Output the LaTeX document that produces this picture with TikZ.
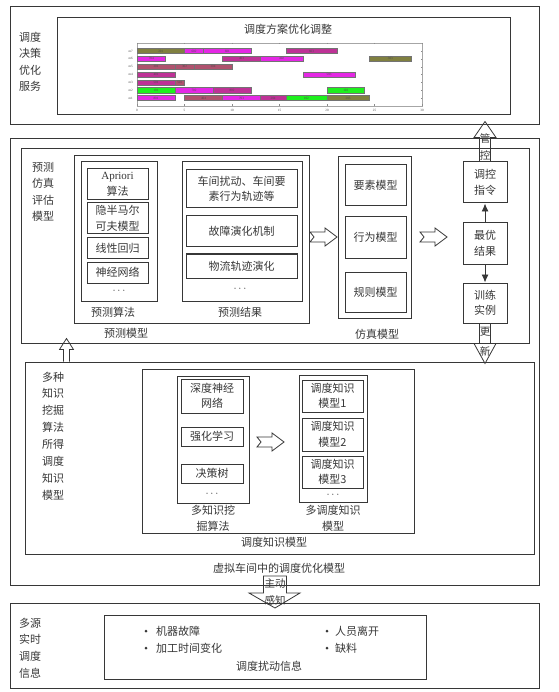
\documentclass[tikz,border=0pt]{standalone}
\usepackage{fontspec}
\setmainfont{Liberation Serif}
\newfontfamily\cjk{Noto Sans CJK SC}
\usetikzlibrary{arrows.meta}
\definecolor{olv}{RGB}{128,128,64}
\definecolor{mag}{RGB}{228,40,228}
\definecolor{pnk}{RGB}{190,50,150}
\definecolor{ros}{RGB}{175,82,110}
\definecolor{grn}{RGB}{30,240,30}
\definecolor{ln}{RGB}{55,55,55}
\definecolor{tx}{RGB}{55,55,55}
\begin{document}
\begin{tikzpicture}[x=1pt,y=-1pt,
  bx/.style={draw=ln, line width=1pt, inner sep=0pt, align=center, text=tx,
     font=\cjk\fontsize{11}{15.5}\selectfont},
  lbl/.style={inner sep=0pt, align=center, text=tx, font=\cjk\fontsize{11}{16.5}\selectfont},
  small/.style={inner sep=0pt, align=center, text=tx, font=\cjk\fontsize{10.5}{12}\selectfont},
  tiny/.style={inner sep=0pt, text=black!70, font=\fontsize{3.3}{3.6}\selectfont},
  hollow/.style={draw=ln, line width=0.8pt, line join=miter},
  conn/.style={draw=ln, line width=0.9pt, -{Latex[length=8pt,width=7pt]}}
]
\useasboundingbox (0,0) rectangle (558,692);

% ---------- top: scheduling decision service ----------
\node[bx, minimum width=529, minimum height=118] (top) at (274.5,66) {};
\node[lbl] (topl) at (30,62) {调度\\决策\\优化\\服务};
\node[bx, minimum width=453, minimum height=97] (gbox) at (283.5,66.5) {};
\node[lbl] (gtitle) at (288,29) {调度方案优化调整};
% gantt axes
\node[draw=black!35, line width=0.4pt, minimum width=285, minimum height=63, inner sep=0pt] (axes) at (279.5,74.5) {};
\foreach \t in {0,5,...,30} {
  \draw[black!45, line width=0.3pt] ({137+9.5*\t},106) -- ({137+9.5*\t},104.5);
  \draw[black!45, line width=0.3pt] ({137+9.5*\t},43) -- ({137+9.5*\t},44.5);
  \node[tiny] (tk\t) at ({137+9.5*\t},110) {\t};
}
\foreach \r in {1,...,7} {
  \pgfmathsetmacro\yy{98-(\r-1)*7.833}
  \draw[black!45, line width=0.3pt] (422,\yy) -- (420.5,\yy);
  \node[tiny, anchor=east] (row\r) at (133,\yy) {m\r};
}
\foreach \r/\a/\b/\c/\l in {
  7/0/5/olv/201, 7/5/7/mag/602, 7/7/12/mag/601, 7/15.65/21.1/pnk/603,
  6/0/3/mag/704, 6/9/13/pnk/403, 6/13/17.45/mag/402, 6/24.45/28.9/olv/303,
  5/0/4/ros/301, 5/4/6/ros/302, 5/6/10/ros/304,
  4/0/4/pnk/401, 4/17.45/23/mag/503,
  3/0/4/pnk/501, 3/4/5/ros/502,
  2/0/4/grn/101, 2/4/8/mag/702, 2/8/12/pnk/802,
  2/20/23.95/grn/103,
  1/0/4/mag/801, 1/5/9/ros/404, 1/9/13/mag/703, 1/13/15.65/pnk/204,
  1/15.65/20/grn/102, 1/20/24.45/olv/205} {
  \pgfmathsetmacro\yy{98-(\r-1)*7.833}
  \draw[draw=black!55, line width=0.3pt, fill=\c] ({137+9.5*\a},{\yy-2.6}) rectangle ({137+9.5*\b},{\yy+2.6});
  \node[tiny] (g\l-\r) at ({137+9.5*(\a+\b)/2},\yy) {\l};
}

% ---------- virtual workshop model ----------
\node[bx, minimum width=529, minimum height=446] (virt) at (274.5,362) {};
\node[lbl] (virtl) at (279,568) {虚拟车间中的调度优化模型};

% prediction / simulation / evaluation
\node[bx, minimum width=508, minimum height=194] (pse) at (275,246) {};
\node[lbl, font=\cjk\fontsize{11}{16.3}\selectfont] (psel) at (43,192) {预测\\仿真\\评估\\模型};

\node[bx, minimum width=235, minimum height=167] (pm) at (191.5,239.5) {};
\node[lbl] (pml) at (126,333) {预测模型};

\node[bx, minimum width=76, minimum height=139] (alg) at (119,231.5) {};
\node[lbl] (algl) at (113,312) {预测算法};
\node[bx, minimum width=61, minimum height=31] (apr) at (117.5,184.5) {{\rmfamily Apriori}\\算法};
\node[bx, minimum width=61, minimum height=31] (hsm) at (117.5,218.5) {隐半马尔\\可夫模型};
\node[bx, minimum width=61, minimum height=20] (lin) at (117.5,248) {线性回归};
\node[bx, minimum width=61, minimum height=21] (nn) at (117.5,272.5) {神经网络};
\node[lbl] (algd) at (119,291) {$\cdots$};

\node[bx, minimum width=120, minimum height=139] (res) at (242,231.5) {};
\node[lbl] (resl) at (240,312) {预测结果};
\node[bx, minimum width=111, minimum height=38] (r1) at (241.5,189) {车间扰动、车间要\\素行为轨迹等};
\node[bx, minimum width=111, minimum height=31] (r2) at (241.5,231.5) {故障演化机制};
\node[bx, minimum width=111, minimum height=24] (r3) at (241.5,266) {物流轨迹演化};
\node[lbl] (resd) at (240,289) {$\cdots$};

% hollow arrow 1
\coordinate (a1) at (310,237);
\draw[hollow] (a1) ++(0,-5) -- ++(15,0) -- ++(0,-4) -- ++(12,9) -- ++(-12,9) -- ++(0,-4) -- ++(-15,0) -- ++(4,-5) -- cycle;

\node[bx, minimum width=73, minimum height=161] (sim) at (374.5,237.5) {};
\node[lbl] (siml) at (377,334) {仿真模型};
\node[bx, minimum width=61, minimum height=41] (s1) at (375.5,185.5) {要素模型};
\node[bx, minimum width=61, minimum height=41] (s2) at (375.5,237.5) {行为模型};
\node[bx, minimum width=61, minimum height=40] (s3) at (375.5,292) {规则模型};

% hollow arrow 2
\coordinate (a2) at (420,237);
\draw[hollow] (a2) ++(0,-5) -- ++(15,0) -- ++(0,-4) -- ++(12,9) -- ++(-12,9) -- ++(0,-4) -- ++(-15,0) -- ++(4,-5) -- cycle;

\node[bx, minimum width=44, minimum height=41] (ctrl) at (485,182.5) {调控\\指令};
\node[bx, minimum width=44, minimum height=41] (best) at (485,243.5) {最优\\结果};
\node[bx, minimum width=44, minimum height=40] (train) at (485,303) {训练\\实例};
\draw[conn] (best) -- (ctrl);
\draw[conn] (best) -- (train);

% control arrow (up to top box)
\draw[hollow] (ctrl.north) ++(-5.5,0) -- ++(0,-24) -- ++(-5.5,0) -- ++(11,-16) -- ++(11,16) -- ++(-5.5,0) -- ++(0,24);
\node[small] (gk1) at (485,138) {管};
\node[small] (gk2) at (485,155) {控};

% update arrow (down to knowledge box)
\draw[hollow] (train.south) ++(-5.5,0) -- ++(0,20) -- ++(-5.5,0) -- ++(11,20) -- ++(11,-20) -- ++(-5.5,0) -- ++(0,-20);
\node[small] (gx1) at (485,332) {更};
\node[small] (gx2) at (485,351) {新};

% knowledge model
\node[bx, minimum width=509, minimum height=192] (kout) at (279.5,458) {};
\node[lbl, font=\cjk\fontsize{11}{16.9}\selectfont] (koutl) at (53,436) {多种\\知识\\挖掘\\算法\\所得\\调度\\知识\\模型};
% up arrow from knowledge box to prediction box
\draw[hollow] (kout.north west) ++(39,0) -- ++(0,-12) -- ++(-4,0) -- ++(7,-11) -- ++(7,11) -- ++(-4,0) -- ++(0,12);

\node[bx, minimum width=272, minimum height=164] (kin) at (278,451) {};
\node[lbl] (kinl) at (274,542) {调度知识模型};

\node[bx, minimum width=72, minimum height=127] (kalg) at (213,439.5) {};
\node[lbl, font=\cjk\fontsize{11}{16}\selectfont] (kalgl) at (213,518) {多知识挖\\掘算法};
\node[bx, minimum width=62, minimum height=34] (k1) at (212,396) {深度神经\\网络};
\node[bx, minimum width=62, minimum height=19] (k2) at (212,436.5) {强化学习};
\node[bx, minimum width=62, minimum height=19] (k3) at (212,473.5) {决策树};
\node[lbl] (kalgd) at (212,494) {$\cdots$};

\coordinate (a3) at (257,442);
\draw[hollow] (a3) ++(0,-5) -- ++(15,0) -- ++(0,-4) -- ++(12,9) -- ++(-12,9) -- ++(0,-4) -- ++(-15,0) -- ++(4,-5) -- cycle;

\node[bx, minimum width=68, minimum height=127] (kmod) at (333,438.5) {};
\node[lbl, font=\cjk\fontsize{11}{16}\selectfont] (kmodl) at (333,518) {多调度知识\\模型};
\node[bx, minimum width=61, minimum height=32] (m1) at (332.5,396) {调度知识\\模型1};
\node[bx, minimum width=61, minimum height=33] (m2) at (332.5,434.5) {调度知识\\模型2};
\node[bx, minimum width=61, minimum height=32] (m3) at (332.5,472) {调度知识\\模型3};
\node[lbl] (kmodd) at (333,495) {$\cdots$};

% ---------- bottom: multi-source info ----------
\node[bx, minimum width=529, minimum height=85] (bot) at (274.5,645.5) {};
\node[lbl, font=\cjk\fontsize{11}{16.7}\selectfont] (botl) at (30,648) {多源\\实时\\调度\\信息};
\node[bx, minimum width=322, minimum height=64] (dist) at (265,647) {};
\node[circle, fill=tx, inner sep=0pt, minimum size=3pt] (b1) at (146,631) {};
\node[circle, fill=tx, inner sep=0pt, minimum size=3pt] (b2) at (146,648) {};
\node[circle, fill=tx, inner sep=0pt, minimum size=3pt] (b3) at (327,631) {};
\node[circle, fill=tx, inner sep=0pt, minimum size=3pt] (b4) at (327,648) {};
\node[lbl, anchor=west] (t1) at (156,631) {机器故障};
\node[lbl, anchor=west] (t2) at (156,648) {加工时间变化};
\node[lbl, anchor=west] (t3) at (335,631) {人员离开};
\node[lbl, anchor=west] (t4) at (335,648) {缺料};
\node[lbl] (distl) at (269,666) {调度扰动信息};

% active sensing arrow
\draw[hollow] (263.5,576) -- (263.5,593) -- (249,593) -- (275,608) -- (300,593) -- (286.5,593) -- (286.5,576) -- cycle;
\node[small] (zd1) at (275,584) {主动};
\node[small] (zd2) at (275,600) {感知};
\end{tikzpicture}
\end{document}
